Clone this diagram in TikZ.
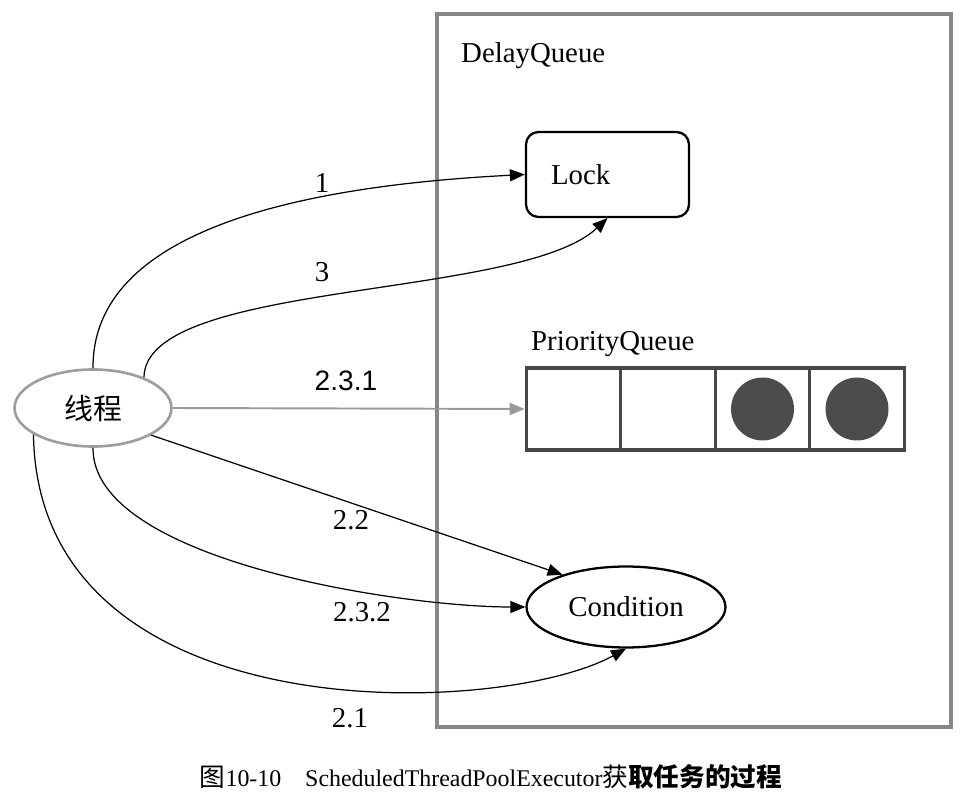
\documentclass[tikz,border=0pt]{standalone}
\usepackage{fontspec}
\setmainfont{Liberation Serif}
\newfontfamily\cjkfont{Noto Sans CJK SC}
\newfontfamily\labelsans{Liberation Sans}
\usetikzlibrary{arrows.meta, positioning, shapes.geometric}

\begin{document}
\begin{tikzpicture}[
    x=0.02cm, y=-0.02cm,
    every node/.style={font=\fontsize{16.4}{19}\selectfont},
    container/.style={rectangle, draw=black!47, line width=2.2pt, minimum width=10.28cm, minimum height=14.26cm},
    lockbox/.style={rectangle, rounded corners=0.25cm, draw=black, line width=1.3pt, minimum height=1.7cm, text width=2.26cm, inner xsep=0.5cm, align=left},
    cell/.style={rectangle, draw=black!72, line width=1.8pt, minimum width=1.89cm, minimum height=1.64cm},
    ball/.style={circle, fill=black!70, minimum size=1.26cm, inner sep=0pt},
    thread/.style={ellipse, draw=black!38, line width=1.5pt, minimum width=3.14cm, minimum height=1.54cm, font=\cjkfont\fontsize{16.4}{19}\selectfont},
    condbox/.style={ellipse, draw=black, line width=1.3pt, minimum width=3.98cm, minimum height=1.62cm},
    conn/.style={-{Triangle[length=3mm, width=2.4mm]}, line width=0.7pt},
    grayconn/.style={conn, draw=black!40, line width=1.1pt},
    steplabel/.style={inner sep=1pt}
]
\useasboundingbox (0,0) rectangle (966,793);

% DelayQueue and its parts
\node[container] (delay) at (694,370.5) {};
\node[anchor=west] (delaytitle) at (455,56) {DelayQueue};
\node[lockbox] (lock) at (607.5,174.5) {Lock};
\foreach \i in {1,...,4}
    \node[cell] (pq\i) at ({573.5+94.5*(\i-1)},409) {};
\node[ball] (b3) at (pq3) {};
\node[ball] (b4) at (pq4) {};
\node[anchor=west] (pqtitle) at (525,344) {PriorityQueue};
\node[condbox] (cond) at (626,607) {Condition};

% the thread
\node[thread] (thr) at (93,408) {线程};

% steps
\draw[conn] (thr.north) .. controls (92,230) and (300,186) .. (lock.west);
\draw[conn] (thr.31) .. controls (145,280) and (520,300) .. (lock.south);
\draw[grayconn] (thr.east) -- (pq1.west);
\draw[conn] (thr.-25) -- (cond.153);
\draw[conn] (thr.south) .. controls (92,560) and (400,607) .. (cond.west);
\draw[conn] (thr.204) .. controls (38,735) and (500,718) .. (cond.south);

\node[steplabel] (s1) at (322,183) {1};
\node[steplabel] (s3) at (322,272) {3};
\node[steplabel, font=\labelsans\fontsize{16}{19}\selectfont] (s231) at (346,381) {2.3.1};
\node[steplabel] (s22) at (351,520) {2.2};
\node[steplabel] (s232) at (362,612) {2.3.2};
\node[steplabel] (s21) at (350,718) {2.1};

% caption
\node[font=\fontsize{13.6}{16}\selectfont] (caption) at (491,777)
    {{\cjkfont\fontsize{14.6}{16}\selectfont 图}10-10\quad ScheduledThreadPoolExecutor{\cjkfont\fontsize{14.6}{16}\selectfont 获\bfseries 取任务的过程}};
\end{tikzpicture}
\end{document}
